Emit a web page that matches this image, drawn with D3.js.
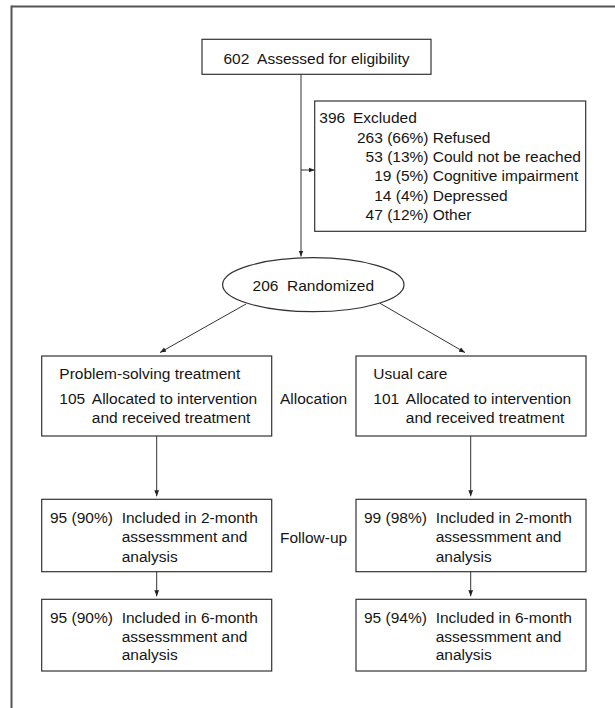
<!DOCTYPE html>
<html>
<head>
<meta charset="utf-8">
<script src="https://cdn.jsdelivr.net/npm/d3@7"></script>
<style>
  html, body { margin: 0; padding: 0; background: #fff; }
  svg { display: block; }
  text { font-family: "Liberation Sans", Arial, sans-serif; font-size: 15.5px; fill: #151515; white-space: pre; }
</style>
</head>
<body>
<div id="chart"></div>
<script>
// ---- Data ----
const assessed = ["602", "Assessed for eligibility"];
const excludedTotal = ["396", "Excluded"];
const excludedCounts = ["263 (66%)", "53 (13%)", "19 (5%)", "14 (4%)", "47 (12%)"];
const excludedReasons = ["Refused", "Could not be reached", "Cognitive impairment", "Depressed", "Other"];
const randomized = ["206", "Randomized"];
const arms = ["Problem-solving treatment", "Usual care"];
const allocatedN = ["105", "101"];
const allocatedText = ["Allocated to intervention", "and received treatment"];
const followup2 = ["95 (90%)", "99 (98%)"];
const followup6 = ["95 (90%)", "95 (94%)"];
const followup2Text = ["Included in 2-month", "assessmment and", "analysis"];
const followup6Text = ["Included in 6-month", "assessmment and", "analysis"];
const stageLabels = ["Allocation", "Follow-up"];

// ---- Layout ----
const W = 615, H = 708;
const svg = d3.select("#chart").append("svg").attr("width", W).attr("height", H);

const defs = svg.append("defs");
defs.append("marker").attr("id", "arr")
  .attr("viewBox", "0 0 10 10").attr("refX", 10).attr("refY", 5)
  .attr("markerWidth", 6).attr("markerHeight", 6).attr("markerUnits", "userSpaceOnUse")
  .attr("orient", "auto")
  .append("path").attr("d", "M0,1 L10,5 L0,9 Z").attr("fill", "#222");

const stroke = "#333";

// frame (top and left edges)
svg.append("line").attr("x1", 11.5).attr("y1", 6.5).attr("x2", W).attr("y2", 6.5)
  .attr("stroke", "#555").attr("stroke-width", 2);
svg.append("line").attr("x1", 11.5).attr("y1", 5.5).attr("x2", 11.5).attr("y2", H)
  .attr("stroke", "#555").attr("stroke-width", 2);

// column scale for the two arms
const col = d3.scaleOrdinal().domain(arms).range([41.7, 356]);
const boxW = 230;
const rowY = d3.scaleOrdinal().domain(["alloc", "f2", "f6"]).range([356, 499.3, 599.3]);
const rowH = { alloc: 80, f2: 72.4, f6: 71.7 };

function box(x, y, w, h) {
  svg.append("rect").attr("x", x).attr("y", y).attr("width", w).attr("height", h)
    .attr("fill", "none").attr("stroke", stroke).attr("stroke-width", 1.2);
}
function arrow(x1, y1, x2, y2) {
  svg.append("line").attr("x1", x1).attr("y1", y1).attr("x2", x2).attr("y2", y2)
    .attr("stroke", stroke).attr("stroke-width", 1).attr("marker-end", "url(#arr)");
}
function txt(x, y, s, anchor) {
  svg.append("text").attr("x", x).attr("y", y).attr("text-anchor", anchor || "start").text(s);
}

// top box
box(202, 39.3, 229, 35);
txt(316.5, 63.8, assessed[0] + "  " + assessed[1], "middle");

// main vertical with branch to excluded
const mainX = 301;
arrow(mainX, 74.3, mainX, 256.5);
arrow(mainX, 170, 314.7, 170);

// excluded box
box(314.7, 101, 271, 130.3);
txt(319.3, 123.3, excludedTotal[0]);
txt(353, 123.3, excludedTotal[1]);
const exY = d3.scalePoint().domain(d3.range(excludedCounts.length)).range([142.6, 220.2]);
excludedCounts.forEach((c, i) => {
  txt(428.5, exY(i), c, "end");
  txt(432.7, exY(i), excludedReasons[i]);
});

// randomized ellipse
svg.append("ellipse").attr("cx", 313.3).attr("cy", 284.7).attr("rx", 90.7).attr("ry", 27)
  .attr("fill", "none").attr("stroke", stroke).attr("stroke-width", 1.2);
txt(313.3, 290.7, randomized[0] + "  " + randomized[1], "middle");

// diagonal arrows
arrow(246, 304, 160, 352.5);
arrow(380, 303.3, 465, 352.5);

// arm boxes
const textX = [59.3, 373.3];
const numX = [50, 364];
const colArrowX = [156.7, 470.7];
arms.forEach((a, i) => {
  const x = col(a);
  // allocation
  box(x, rowY("alloc"), boxW, rowH.alloc);
  txt(textX[i], 379.3, a);
  txt(textX[i], 404.3, allocatedN[i]);
  txt(textX[i] + 32.5, 404.3, allocatedText[0]);
  txt(textX[i] + 32.5, 423.3, allocatedText[1]);
  arrow(colArrowX[i], rowY("alloc") + rowH.alloc, colArrowX[i], rowY("f2") - 3);

  // 2-month
  box(x, rowY("f2"), boxW, rowH.f2);
  txt(numX[i], 523.3, followup2[i]);
  followup2Text.forEach((t, j) => txt(numX[i] + 71.7, 523.3 + j * 19.1, t));
  arrow(colArrowX[i], rowY("f2") + rowH.f2, colArrowX[i], rowY("f6") - 3);

  // 6-month
  box(x, rowY("f6"), boxW, rowH.f6);
  txt(numX[i], 622.8, followup6[i]);
  followup6Text.forEach((t, j) => txt(numX[i] + 71.7, 622.8 + j * 18.8, t));
});

// stage labels
txt(280, 404.3, stageLabels[0]);
txt(280, 543.3, stageLabels[1]);
</script>
</body>
</html>
